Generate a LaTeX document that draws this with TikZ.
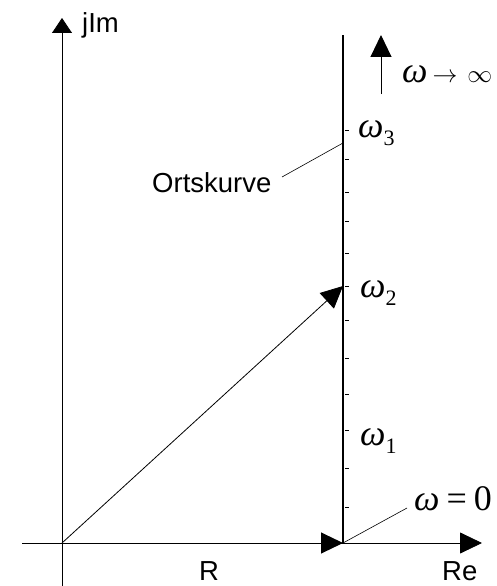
\documentclass[tikz,border=0pt]{standalone}
\usepackage{fontspec}
\setsansfont{Liberation Sans}
\newfontfamily\tms{Liberation Serif}
\usetikzlibrary{arrows.meta}
\newcommand\om{{\itshape ω}}
\newcommand\lowsub[1]{\raisebox{-8pt}{\fontsize{22}{22}\selectfont #1}}
\newcommand\marr{{\fontsize{26}{26}\selectfont$\rightarrow$}}
\newcommand\minf{{\fontsize{27}{27}\selectfont$\infty$}}
\begin{document}
\begin{tikzpicture}[x=1pt,y=-1pt,
  axis/.style={line width=0.8pt},
  bigtip/.style={-{Triangle[length=22pt,width=21pt]}},
  sanslbl/.style={inner sep=0pt,font=\sffamily\fontsize{27.5}{30}\selectfont},
  mathlbl/.style={inner sep=0pt,font=\tms\fontsize{36}{40}\selectfont},
  tick/.style={line width=0.6pt},
  leader/.style={line width=0.6pt}]
\useasboundingbox (0,0) rectangle (496,586);
% coordinates
\coordinate (O) at (62,543);
\coordinate (ybot) at (62,586);
\coordinate (ytop) at (62,18);
\coordinate (xleft) at (22,543);
\coordinate (xright) at (482,543);
\coordinate (P) at (343,543);
\coordinate (Ptop) at (343,35);
\coordinate (W2) at (343,286);
\coordinate (infB) at (381,94);
\coordinate (infT) at (381,35);
\coordinate (lo1) at (282,177);
\coordinate (lo2) at (343,143);
\coordinate (lz) at (407,508);
% axes
\draw[axis,-{Triangle[length=15pt,width=20pt]}] (ybot) -- (ytop);
\draw[axis,bigtip] (xleft) -- (xright);
% R vector
\draw[line width=1pt,bigtip] (O) -- (P);
% Ortskurve line
\draw[line width=1.1pt] (P) -- (Ptop);
% diagonal vector
\draw[line width=0.8pt,bigtip] (O) -- (W2);
% omega -> infinity arrow
\draw[line width=1pt,bigtip] (infB) -- (infT);
% ticks
\foreach \ty in {130,159,192,221,253,286,320,358,394,430,468,507}
  \draw[tick] (345,\ty) -- (349,\ty);
% leaders
\draw[leader] (lo1) -- (lo2);
\draw[leader] (P) -- (lz);
% labels
\node[sanslbl,anchor=base west] (jim) at (82,33) {jIm};
\node[sanslbl,anchor=base west] (re) at (442,580) {Re};
\node[sanslbl,anchor=base west] (r) at (199,580) {R};
\node[sanslbl,anchor=base west] (ort) at (152,192) {Ortskurve};
\node[mathlbl,anchor=base west] (winf) at (402,82) {\om\hspace{5pt}\marr\hspace{10pt}\minf};
\node[mathlbl,anchor=base west] (w3) at (358,137) {\om\lowsub{3}};
\node[mathlbl,anchor=base west] (w2) at (360,297) {\om\lowsub{2}};
\node[mathlbl,anchor=base west] (w1) at (360,445) {\om\lowsub{1}};
\node[mathlbl,anchor=base west] (w0) at (414,510) {\om\hspace{7pt}=\hspace{7pt}0};
\end{tikzpicture}
\end{document}
